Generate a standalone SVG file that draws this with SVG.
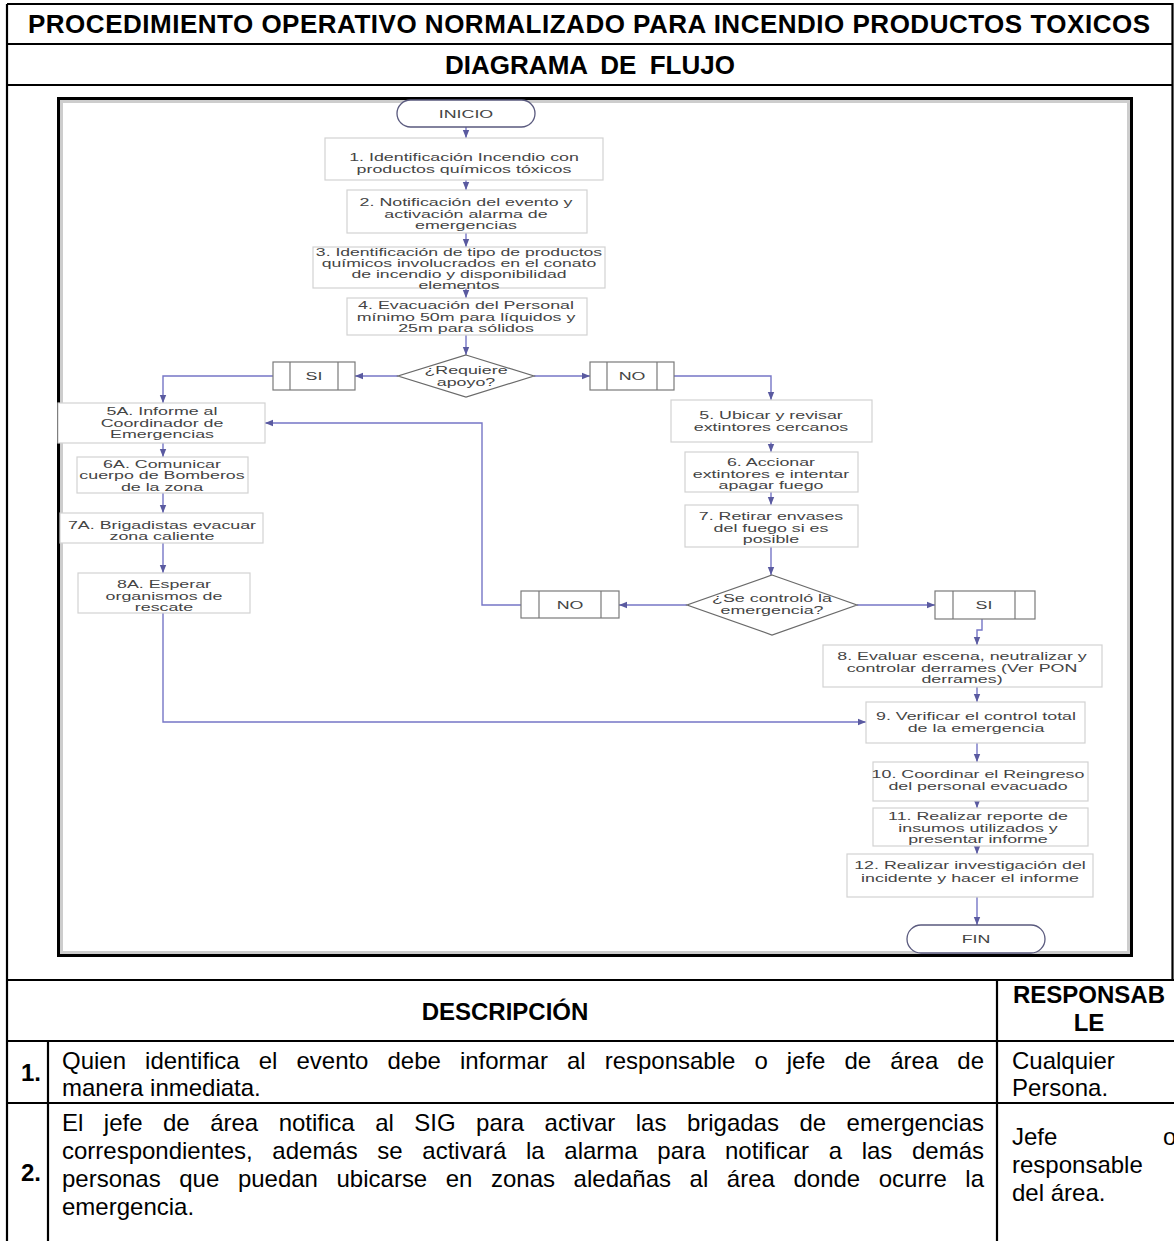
<svg xmlns="http://www.w3.org/2000/svg" width="1174" height="1241" viewBox="0 0 1174 1241">
<style>
.ln{stroke:#000;stroke-width:2.2;fill:none}
.hd{font-family:"Liberation Sans",Arial,sans-serif;font-weight:bold;font-size:26px;fill:#000;text-anchor:middle}
.th{font-family:"Liberation Sans",Arial,sans-serif;font-weight:bold;font-size:24px;fill:#000}
.tt{font-family:"Liberation Sans",Arial,sans-serif;font-size:24px;fill:#000}
.bx{fill:#fff;stroke:#d2d2d2;stroke-width:1.2}
.pb{fill:#fff;stroke:#7a7a7a;stroke-width:1.2}
.dm{fill:#fff;stroke:#6a6a6a;stroke-width:1.2}
.tm{fill:#fff;stroke:#5a5a7e;stroke-width:1.3}
.ft{font-family:"Liberation Sans",Arial,sans-serif;font-size:11.5px;fill:#444;text-anchor:middle}
.fs{font-size:11px}
.cn{fill:none;stroke:#7676c6;stroke-width:1.4}
</style>
<defs>
<marker id="ah" viewBox="0 0 10 10" refX="10" refY="5" markerWidth="8" markerHeight="8" markerUnits="userSpaceOnUse" orient="auto">
<path d="M0,1 L10,5 L0,9 z" fill="#5a5aa0"/>
</marker>
</defs>
<rect width="1174" height="1241" fill="#fff"/>

<g id="table">
<path class="ln" d="M7,4 H1172.5 V980 M7,4 V1241 M7,44 H1172.5 M7,85 H1172.5 M7,980 H1174 M7,1041 H1174 M7,1103 H1174 M48,1041 V1241 M997,980 V1241"/>
<text class="hd" x="589" y="33" textLength="1122" lengthAdjust="spacing">PROCEDIMIENTO OPERATIVO NORMALIZADO PARA INCENDIO PRODUCTOS TOXICOS</text>
<text class="hd" x="590" y="74" word-spacing="6">DIAGRAMA DE FLUJO</text>
<text class="th" x="505" y="1020" text-anchor="middle">DESCRIPCIÓN</text>
<text class="th" x="1089" y="1003" text-anchor="middle">RESPONSAB</text>
<text class="th" x="1089" y="1031" text-anchor="middle">LE</text>
<text class="th" x="21" y="1081">1.</text>
<text class="tt" x="62" y="1069" word-spacing="12.4" textLength="922" lengthAdjust="spacing">Quien identifica el evento debe informar al responsable o jefe de área de</text>
<text class="tt" x="62" y="1096">manera inmediata.</text>
<text class="tt" x="1012" y="1069">Cualquier</text>
<text class="tt" x="1012" y="1096">Persona.</text>
<text class="th" x="21" y="1181">2.</text>
<text class="tt" x="62" y="1131" word-spacing="13.8" textLength="922" lengthAdjust="spacing">El jefe de área notifica al SIG para activar las brigadas de emergencias</text>
<text class="tt" x="62" y="1159" word-spacing="13" textLength="922" lengthAdjust="spacing">correspondientes, además se activará la alarma para notificar a las demás</text>
<text class="tt" x="62" y="1187" word-spacing="11.9" textLength="922" lengthAdjust="spacing">personas que puedan ubicarse en zonas aledañas al área donde ocurre la</text>
<text class="tt" x="62" y="1215">emergencia.</text>
<text class="tt" x="1012" y="1145">Jefe</text>
<text class="tt" x="1163" y="1145">o</text>
<text class="tt" x="1012" y="1173">responsable</text>
<text class="tt" x="1012" y="1201">del área.</text>
</g>

<g id="frame">
<rect x="58.5" y="98.5" width="1073" height="857" fill="#fff" stroke="#000" stroke-width="3"/>
<rect x="61.5" y="101.5" width="1067" height="851" fill="none" stroke="#cdcdcd" stroke-width="3"/>
</g>

<g id="connectors">
<path class="cn" marker-end="url(#ah)" d="M466,127 V138"/>
<path class="cn" marker-end="url(#ah)" d="M466,180 V190"/>
<path class="cn" marker-end="url(#ah)" d="M466,233 V247"/>
<path class="cn" marker-end="url(#ah)" d="M466,288 V298"/>
<path class="cn" marker-end="url(#ah)" d="M466,335 V355"/>
<path class="cn" marker-end="url(#ah)" d="M398,376 H355"/>
<path class="cn" marker-end="url(#ah)" d="M273,376 H163 V403"/>
<path class="cn" marker-end="url(#ah)" d="M534,376 H590"/>
<path class="cn" marker-end="url(#ah)" d="M674,376 H771 V400"/>
<path class="cn" marker-end="url(#ah)" d="M163,443 V457"/>
<path class="cn" marker-end="url(#ah)" d="M163,493 V513"/>
<path class="cn" marker-end="url(#ah)" d="M163,543 V573"/>
<path class="cn" marker-end="url(#ah)" d="M163,613 V722 H866"/>
<path class="cn" marker-end="url(#ah)" d="M771,442 V452"/>
<path class="cn" marker-end="url(#ah)" d="M771,492 V505"/>
<path class="cn" marker-end="url(#ah)" d="M771,547 V575"/>
<path class="cn" marker-end="url(#ah)" d="M687,605 H619"/>
<path class="cn" marker-end="url(#ah)" d="M521,605 H482 V423 H265"/>
<path class="cn" marker-end="url(#ah)" d="M857,605 H935"/>
<path class="cn" marker-end="url(#ah)" d="M982,619 V630 H977 V645"/>
<path class="cn" marker-end="url(#ah)" d="M977,687 V702"/>
<path class="cn" marker-end="url(#ah)" d="M977,743 V762"/>
<path class="cn" marker-end="url(#ah)" d="M977,801 V808"/>
<path class="cn" marker-end="url(#ah)" d="M977,846 V854"/>
<path class="cn" marker-end="url(#ah)" d="M977,897 V925"/>
</g>

<g id="inicio">
<rect class="tm" x="397" y="100" width="138" height="27" rx="13.5"/>
<text class="ft" transform="translate(466 117.5) scale(1.55 1)">INICIO</text>
</g>
<g id="n1">
<rect class="bx" x="325" y="138" width="278" height="42"/>
<text class="ft" transform="translate(464 161) scale(1.55 1)">1. Identificación Incendio con</text>
<text class="ft" transform="translate(464 172.5) scale(1.55 1)">productos químicos tóxicos</text>
</g>
<g id="n2">
<rect class="bx" x="347" y="190" width="240" height="43"/>
<text class="ft" transform="translate(466 206) scale(1.55 1)">2. Notificación del evento y</text>
<text class="ft" transform="translate(466 217.5) scale(1.55 1)">activación alarma de</text>
<text class="ft" transform="translate(466 229) scale(1.55 1)">emergencias</text>
</g>
<g id="n3">
<rect class="bx" x="313" y="247" width="292" height="41"/>
<text class="ft fs" transform="translate(459 255.5) scale(1.6 1)">3. Identificación de tipo de productos</text>
<text class="ft fs" transform="translate(459 266.5) scale(1.6 1)">químicos involucrados en el conato</text>
<text class="ft fs" transform="translate(459 277.5) scale(1.6 1)">de incendio y disponibilidad</text>
<text class="ft fs" transform="translate(459 288.5) scale(1.6 1)">elementos</text>
</g>
<g id="n4">
<rect class="bx" x="347" y="298" width="240" height="37"/>
<text class="ft" transform="translate(466 309) scale(1.55 1)">4. Evacuación del Personal</text>
<text class="ft" transform="translate(466 320.5) scale(1.55 1)">mínimo 50m para líquidos y</text>
<text class="ft" transform="translate(466 332) scale(1.55 1)">25m para sólidos</text>
</g>
<g id="d1">
<polygon class="dm" points="466,355 534,376 466,397 398,376"/>
<text class="ft" transform="translate(466 374) scale(1.55 1)">¿Requiere</text>
<text class="ft" transform="translate(466 385.5) scale(1.55 1)">apoyo?</text>
</g>
<g id="si1">
<rect class="pb" x="273" y="362" width="82" height="28"/>
<path class="pb" d="M290,362 V390 M338,362 V390"/>
<text class="ft" transform="translate(314 380) scale(1.55 1)">SI</text>
</g>
<g id="no1">
<rect class="pb" x="590" y="362" width="84" height="28"/>
<path class="pb" d="M607,362 V390 M657,362 V390"/>
<text class="ft" transform="translate(632 380) scale(1.55 1)">NO</text>
</g>
<g id="n5a">
<rect class="bx" x="58" y="403" width="207" height="40"/>
<text class="ft" transform="translate(162 415) scale(1.55 1)">5A. Informe al</text>
<text class="ft" transform="translate(162 426.5) scale(1.55 1)">Coordinador de</text>
<text class="ft" transform="translate(162 438) scale(1.55 1)">Emergencias</text>
</g>
<g id="n6a">
<rect class="bx" x="77" y="457" width="171" height="36"/>
<text class="ft" transform="translate(162 467.5) scale(1.55 1)">6A. Comunicar</text>
<text class="ft" transform="translate(162 479) scale(1.55 1)">cuerpo de Bomberos</text>
<text class="ft" transform="translate(162 490.5) scale(1.55 1)">de la zona</text>
</g>
<g id="n7a">
<rect class="bx" x="60" y="513" width="203" height="30"/>
<text class="ft" transform="translate(162 528.5) scale(1.55 1)">7A. Brigadistas evacuar</text>
<text class="ft" transform="translate(162 540) scale(1.55 1)">zona caliente</text>
</g>
<g id="n8a">
<rect class="bx" x="78" y="573" width="172" height="40"/>
<text class="ft" transform="translate(164 588) scale(1.55 1)">8A. Esperar</text>
<text class="ft" transform="translate(164 599.5) scale(1.55 1)">organismos de</text>
<text class="ft" transform="translate(164 611) scale(1.55 1)">rescate</text>
</g>
<g id="n5">
<rect class="bx" x="671" y="400" width="201" height="42"/>
<text class="ft" transform="translate(771 419) scale(1.55 1)">5. Ubicar y revisar</text>
<text class="ft" transform="translate(771 430.5) scale(1.55 1)">extintores cercanos</text>
</g>
<g id="n6">
<rect class="bx" x="685" y="452" width="173" height="40"/>
<text class="ft" transform="translate(771 466) scale(1.55 1)">6. Accionar</text>
<text class="ft" transform="translate(771 477.5) scale(1.55 1)">extintores e intentar</text>
<text class="ft" transform="translate(771 489) scale(1.55 1)">apagar fuego</text>
</g>
<g id="n7">
<rect class="bx" x="685" y="505" width="173" height="42"/>
<text class="ft" transform="translate(771 520) scale(1.55 1)">7. Retirar envases</text>
<text class="ft" transform="translate(771 531.5) scale(1.55 1)">del fuego si es</text>
<text class="ft" transform="translate(771 543) scale(1.55 1)">posible</text>
</g>
<g id="d2">
<polygon class="dm" points="772,575 857,605 772,635 687,605"/>
<text class="ft" transform="translate(772 602) scale(1.55 1)">¿Se controló la</text>
<text class="ft" transform="translate(772 613.5) scale(1.55 1)">emergencia?</text>
</g>
<g id="no2">
<rect class="pb" x="521" y="591" width="98" height="27"/>
<path class="pb" d="M539,591 V618 M601,591 V618"/>
<text class="ft" transform="translate(570 609) scale(1.55 1)">NO</text>
</g>
<g id="si2">
<rect class="pb" x="935" y="591" width="100" height="28"/>
<path class="pb" d="M953,591 V619 M1015,591 V619"/>
<text class="ft" transform="translate(984 609) scale(1.55 1)">SI</text>
</g>
<g id="n8">
<rect class="bx" x="823" y="645" width="279" height="42"/>
<text class="ft" transform="translate(962 660) scale(1.55 1)">8. Evaluar escena, neutralizar y</text>
<text class="ft" transform="translate(962 671.5) scale(1.55 1)">controlar derrames (Ver PON</text>
<text class="ft" transform="translate(962 683) scale(1.55 1)">derrames)</text>
</g>
<g id="n9">
<rect class="bx" x="866" y="702" width="219" height="41"/>
<text class="ft" transform="translate(976 720) scale(1.55 1)">9. Verificar el control total</text>
<text class="ft" transform="translate(976 731.5) scale(1.55 1)">de la emergencia</text>
</g>
<g id="n10">
<rect class="bx" x="873" y="762" width="215" height="39"/>
<text class="ft" transform="translate(978 778) scale(1.55 1)">10. Coordinar el Reingreso</text>
<text class="ft" transform="translate(978 789.5) scale(1.55 1)">del personal evacuado</text>
</g>
<g id="n11">
<rect class="bx" x="873" y="808" width="215" height="38"/>
<text class="ft" transform="translate(978 820) scale(1.55 1)">11. Realizar reporte de</text>
<text class="ft" transform="translate(978 831.5) scale(1.55 1)">insumos utilizados y</text>
<text class="ft" transform="translate(978 843) scale(1.55 1)">presentar informe</text>
</g>
<g id="n12">
<rect class="bx" x="847" y="854" width="246" height="43"/>
<text class="ft" transform="translate(970 869) scale(1.55 1)">12. Realizar investigación del</text>
<text class="ft" transform="translate(970 882) scale(1.55 1)">incidente y hacer el informe</text>
</g>
<g id="fin">
<rect class="tm" x="907" y="925" width="138" height="28" rx="14"/>
<text class="ft" transform="translate(976 943) scale(1.55 1)">FIN</text>
</g>
</svg>
